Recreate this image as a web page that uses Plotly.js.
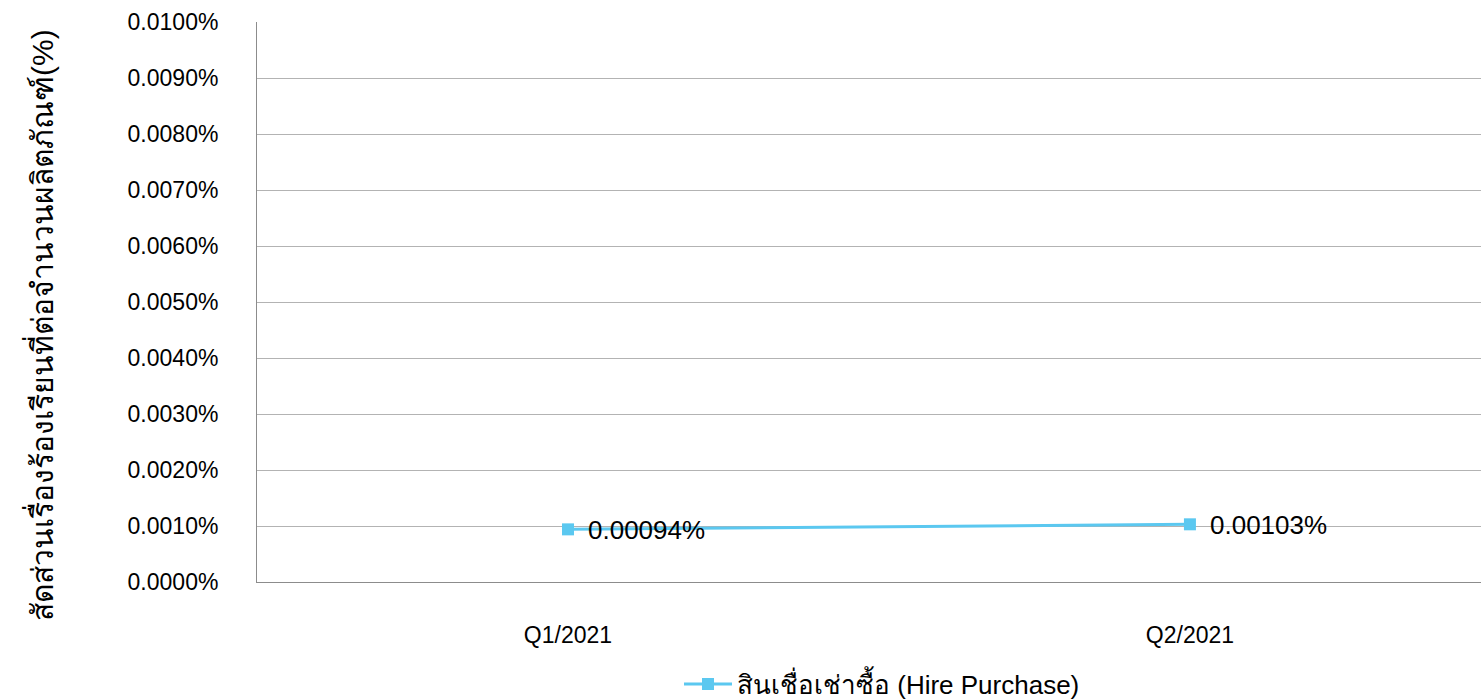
<!DOCTYPE html>
<html>
<head>
<meta charset="utf-8">
<script src="https://cdn.plot.ly/plotly-3.0.1.min.js"></script>
<style>html,body{margin:0;padding:0;background:#fff;}#chart{width:1481px;height:700px;}</style>
</head>
<body>
<div id="chart"></div>
<script>
const categories = ["Q1/2021", "Q2/2021"];
const hirePurchase = [0.00094, 0.00103];
const hirePurchaseLabels = ["0.00094%", "0.00103%"];
const seriesName = "สินเชื่อเช่าซื้อ (Hire Purchase)";
const yTitle = "สัดส่วนเรื่องร้องเรียนที่ต่อจำนวนผลิตภัณฑ์(%)";
const yTickVals = [0, 0.001, 0.002, 0.003, 0.004, 0.005, 0.006, 0.007, 0.008, 0.009, 0.010];
const yTickText = ["0.0000%", "0.0010%", "0.0020%", "0.0030%", "0.0040%", "0.0050%", "0.0060%", "0.0070%", "0.0080%", "0.0090%", "0.0100%"];

const font = "Liberation Sans, Arial, sans-serif";
const xIdx = categories.map((c, i) => i);
const trace = {
  x: xIdx,
  y: hirePurchase,
  name: seriesName,
  type: "scatter",
  mode: "lines+markers",
  line: {color: "#5BC8F0", width: 3},
  marker: {color: "#5BC8F0", symbol: "square", size: 12},
  cliponaxis: false
};
const labelAnnotations = xIdx.map((xi, i) => ({
  x: xi, y: hirePurchase[i], xref: "x", yref: "y",
  text: hirePurchaseLabels[i], showarrow: false,
  xanchor: "left", yanchor: "middle", xshift: 18, yshift: -1,
  font: {family: font, size: 26, color: "#000"}
}));
const titleAnnotation = {
  xref: "paper", yref: "paper",
  x: (40 - 257) / 1224, y: (582 - 325) / 560,
  xanchor: "center", yanchor: "middle",
  text: yTitle, textangle: -90, showarrow: false,
  font: {family: font, size: 30, color: "#000"}
};
const layout = {
  width: 1481, height: 700,
  margin: {l: 257, r: 0, t: 22, b: 118, autoexpand: false},
  paper_bgcolor: "#fff", plot_bgcolor: "#fff",
  font: {family: font, color: "#000"},
  showlegend: true,
  legend: {orientation: "h", xref: "container", yref: "container",
           x: 882 / 1481, xanchor: "center", y: 16 / 700, yanchor: "middle",
           itemwidth: 48,
           font: {family: font, size: 26, color: "#000"}},
  xaxis: {
    range: [-0.5, 1.468], tickvals: xIdx, ticktext: categories,
    showgrid: false, zeroline: false, showline: true, linecolor: "#8c8c8c", linewidth: 1,
    ticks: "", ticklabelstandoff: 32, automargin: false,
    tickfont: {family: font, size: 23, color: "#000"}, fixedrange: true
  },
  yaxis: {
    range: [0, 0.01], tickvals: yTickVals, ticktext: yTickText,
    showgrid: true, gridcolor: "#b3b3b3", gridwidth: 1,
    zeroline: false, showline: true, linecolor: "#8c8c8c", linewidth: 1,
    ticks: "", ticklabelstandoff: 33, automargin: false,
    tickfont: {family: font, size: 23, color: "#000"},
    fixedrange: true
  },
  annotations: [titleAnnotation].concat(labelAnnotations)
};
Plotly.newPlot("chart", [trace], layout, {displayModeBar: false, staticPlot: true});
</script>
</body>
</html>
